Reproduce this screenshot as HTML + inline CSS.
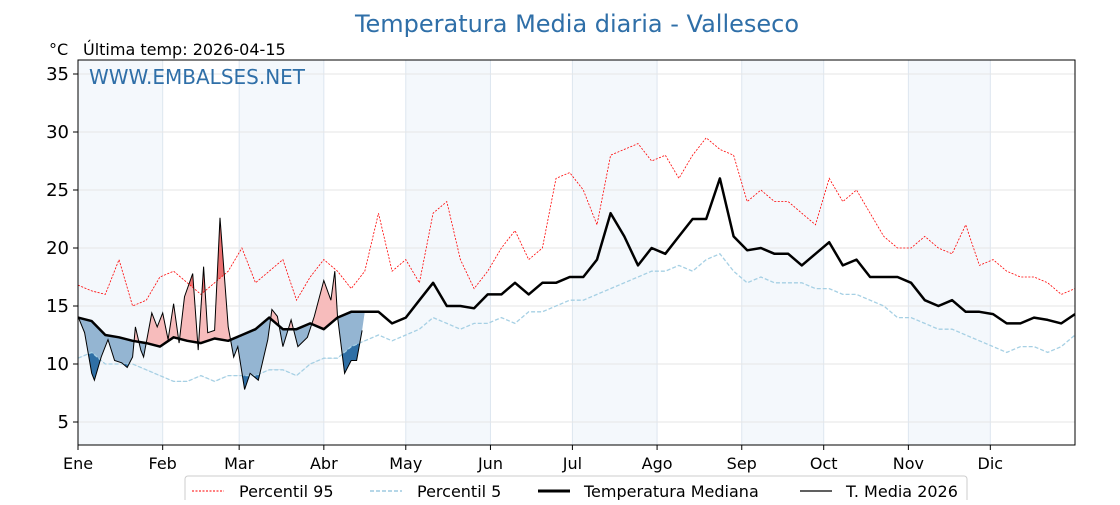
<!DOCTYPE html>
<html><head><meta charset="utf-8"><style>
body{margin:0;background:#fff;font-family:"Liberation Sans","DejaVu Sans",sans-serif}
svg text{font-family:"DejaVu Sans","Liberation Sans",sans-serif}
</style></head><body>
<svg id="chart" width="1120" height="500" xmlns="http://www.w3.org/2000/svg">
<text x="577" y="32" font-size="24" fill="#2f6fa8" text-anchor="middle">Temperatura Media diaria - Valleseco</text>
<text x="49" y="55" font-size="16" fill="#000">°C</text>
<text x="83" y="55" font-size="16" fill="#000">Última temp: 2026-04-15</text>
<g id="plot"></g>
<text x="89" y="84" font-size="20" fill="#2f6fa8">WWW.EMBALSES.NET</text>
<g>
<rect x="185" y="476" width="782" height="30" rx="3" fill="#fff" stroke="#ccc"/>
<line x1="192" y1="491" x2="224" y2="491" stroke="red" stroke-width="1" stroke-dasharray="2,1.5"/>
<text x="239" y="497" font-size="16">Percentil 95</text>
<line x1="370" y1="491" x2="402" y2="491" stroke="#9ecae1" stroke-width="1.5" stroke-dasharray="4,2"/>
<text x="417" y="497" font-size="16">Percentil 5</text>
<line x1="538" y1="491" x2="570" y2="491" stroke="#000" stroke-width="3"/>
<text x="584" y="497" font-size="16">Temperatura Mediana</text>
<line x1="800" y1="491" x2="832" y2="491" stroke="#000" stroke-width="1.2"/>
<text x="846" y="497" font-size="16">T. Media 2026</text>
</g>
</svg>
<script>
const monthLabels=["Ene","Feb","Mar","Abr","May","Jun","Jul","Ago","Sep","Oct","Nov","Dic"];
const monthStartDays=[0,31,59,90,120,151,181,212,243,273,304,334];
const yTicks=[5,10,15,20,25,30,35];
const medianVals=[14.0,13.7,12.5,12.3,12.0,11.8,11.5,12.3,12.0,11.8,12.2,12.0,12.5,13.0,14.0,13.0,13.0,13.5,13.0,14.0,14.5,14.5,14.5,13.5,14.0,15.5,17.0,15.0,15.0,14.8,16.0,16.0,17.0,16.0,17.0,17.0,17.5,17.5,19.0,23.0,21.0,18.5,20.0,19.5,21.0,22.5,22.5,26.0,21.0,19.8,20.0,19.5,19.5,18.5,19.5,20.5,18.5,19.0,17.5,17.5,17.5,17.0,15.5,15.0,15.5,14.5,14.5,14.3,13.5,13.5,14.0,13.8,13.5,14.3];
const p95Vals=[16.8,16.3,16.0,19.0,15.0,15.5,17.5,18.0,17.0,16.0,17.0,18.0,20.0,17.0,18.0,19.0,15.5,17.5,19.0,18.0,16.5,18.0,23.0,18.0,19.0,17.0,23.0,24.0,19.0,16.5,18.0,20.0,21.5,19.0,20.0,26.0,26.5,25.0,22.0,28.0,28.5,29.0,27.5,28.0,26.0,28.0,29.5,28.5,28.0,24.0,25.0,24.0,24.0,23.0,22.0,26.0,24.0,25.0,23.0,21.0,20.0,20.0,21.0,20.0,19.5,22.0,18.5,19.0,18.0,17.5,17.5,17.0,16.0,16.5];
const p5Vals=[10.5,11.0,10.0,10.0,10.0,9.5,9.0,8.5,8.5,9.0,8.5,9.0,9.0,9.0,9.5,9.5,9.0,10.0,10.5,10.5,11.5,12.0,12.5,12.0,12.5,13.0,14.0,13.5,13.0,13.5,13.5,14.0,13.5,14.5,14.5,15.0,15.5,15.5,16.0,16.5,17.0,17.5,18.0,18.0,18.5,18.0,19.0,19.5,18.0,17.0,17.5,17.0,17.0,17.0,16.5,16.5,16.0,16.0,15.5,15.0,14.0,14.0,13.5,13.0,13.0,12.5,12.0,11.5,11.0,11.5,11.5,11.0,11.5,12.5];
const meanDays=[0,2.4,5,6,8.5,11,13.4,16,18,20,21,23,24,27,29,31,33,35,37,39,42,44,46,47.5,50,52,55,57,58.5,61,63,66,69.5,71,73,75,78,80.5,84,86.5,90,92.6,94,95,97.6,100,102,104];
const meanVals=[14.1,12.7,9.2,8.6,10.6,12.1,10.3,10.1,9.7,10.6,13.2,11.2,10.6,14.4,13.2,14.4,12.1,15.2,11.8,15.8,17.8,11.2,18.4,12.7,12.9,22.6,13.2,10.6,11.5,7.8,9.2,8.6,12.1,14.7,14.1,11.5,13.8,11.5,12.3,14.1,17.2,15.5,18.0,14.1,9.2,10.3,10.3,12.9];

const NS="http://www.w3.org/2000/svg";
const L=78,R=1075,T=60,B=445;
const X=d=>L+d*(R-L)/365;
const Y=v=>74+(35-v)*11.6;
const plot=document.getElementById('plot');
function mk(tag,attrs,parent){const e=document.createElementNS(NS,tag);for(const k in attrs)e.setAttribute(k,attrs[k]);(parent||plot).appendChild(e);return e;}
const annDays=medianVals.map((_,i)=>i*5);
const pts=(ds,vs)=>ds.map((d,i)=>X(d).toFixed(1)+","+Y(vs[i]).toFixed(1));

monthStartDays.forEach((d,i)=>{
  const e=i+1<12?monthStartDays[i+1]:365;
  if(i%2===0){const b=mk('rect',{x:X(d),y:T,width:X(e)-X(d),height:B-T,fill:'#f4f8fc'});
  
  }
  if(i>0){mk('line',{x1:X(d),x2:X(d),y1:T,y2:B,stroke:'#dde6ef','stroke-width':1});}
});
yTicks.forEach(v=>{
  const g=mk('line',{x1:L,x2:R,y1:Y(v),y2:Y(v),stroke:'#e6e6e6','stroke-width':1});
  
  
  mk('line',{x1:L-5,x2:L,y1:Y(v),y2:Y(v),stroke:'#000'});
  const t=mk('text',{x:L-9,y:Y(v)+6,'font-size':18,'text-anchor':'end'});t.textContent=v;
  
  
});
monthLabels.forEach((m,i)=>{
  const d=monthStartDays[i];
  mk('line',{x1:X(d),x2:X(d),y1:B,y2:B+5,stroke:'#000'});
  const t=mk('text',{x:X(d),y:B+24,'font-size':16,'text-anchor':'middle'});t.textContent=m;
  
  
});

const defs=mk('defs',{});
function clipArea(id,ds,vs,above){
  const c=mk('clipPath',{id:id},defs);
  const edge=above?T-50:B+50;
  const p=pts(ds,vs);
  mk('polygon',{points:X(ds[0])+","+edge+" "+p.join(" ")+" "+X(ds[ds.length-1])+","+edge},c);
}
clipArea('aboveMed',annDays,medianVals,true);
clipArea('belowMed',annDays,medianVals,false);
clipArea('belowP5',annDays,p5Vals,false);
clipArea('aboveP95',annDays,p95Vals,true);
const lastD=meanDays[meanDays.length-1];
const medSub=annDays.map((d,i)=>[d,medianVals[i]]).filter(a=>a[0]<=lastD+1).reverse();
const p5Sub=annDays.map((d,i)=>[d,p5Vals[i]]).filter(a=>a[0]<=lastD+1).reverse();
const p95Sub=annDays.map((d,i)=>[d,p95Vals[i]]).filter(a=>a[0]<=lastD+1).reverse();
const meanPts=pts(meanDays,meanVals).join(" ");
const poly=sub=>meanPts+" "+sub.map(a=>X(a[0]).toFixed(1)+","+Y(a[1]).toFixed(1)).join(" ");
let f;
f=mk('polygon',{points:poly(medSub),fill:'#f7bcbc','clip-path':'url(#aboveMed)'});


f=mk('polygon',{points:poly(p95Sub),fill:'#ea7070','clip-path':'url(#aboveP95)'});


f=mk('polygon',{points:poly(medSub),fill:'#94b5d2','clip-path':'url(#belowMed)'});


f=mk('polygon',{points:poly(p5Sub),fill:'#2f6fa5','clip-path':'url(#belowP5)'});



let l;
l=mk('polyline',{points:pts(annDays,p95Vals).join(" "),fill:'none',stroke:'red','stroke-width':0.8,'stroke-dasharray':'2,1.5'});


l=mk('polyline',{points:pts(annDays,p5Vals).join(" "),fill:'none',stroke:'#a6d0e4','stroke-width':1.3,'stroke-dasharray':'4,2'});


l=mk('polyline',{points:pts(annDays,medianVals).join(" "),fill:'none',stroke:'#000','stroke-width':2.5,'stroke-linejoin':'round'});


l=mk('polyline',{points:meanPts,fill:'none',stroke:'#000','stroke-width':1});


l=mk('rect',{x:L,y:T,width:R-L,height:B-T,fill:'none',stroke:'#000','stroke-width':1});


</script>
</body></html>
